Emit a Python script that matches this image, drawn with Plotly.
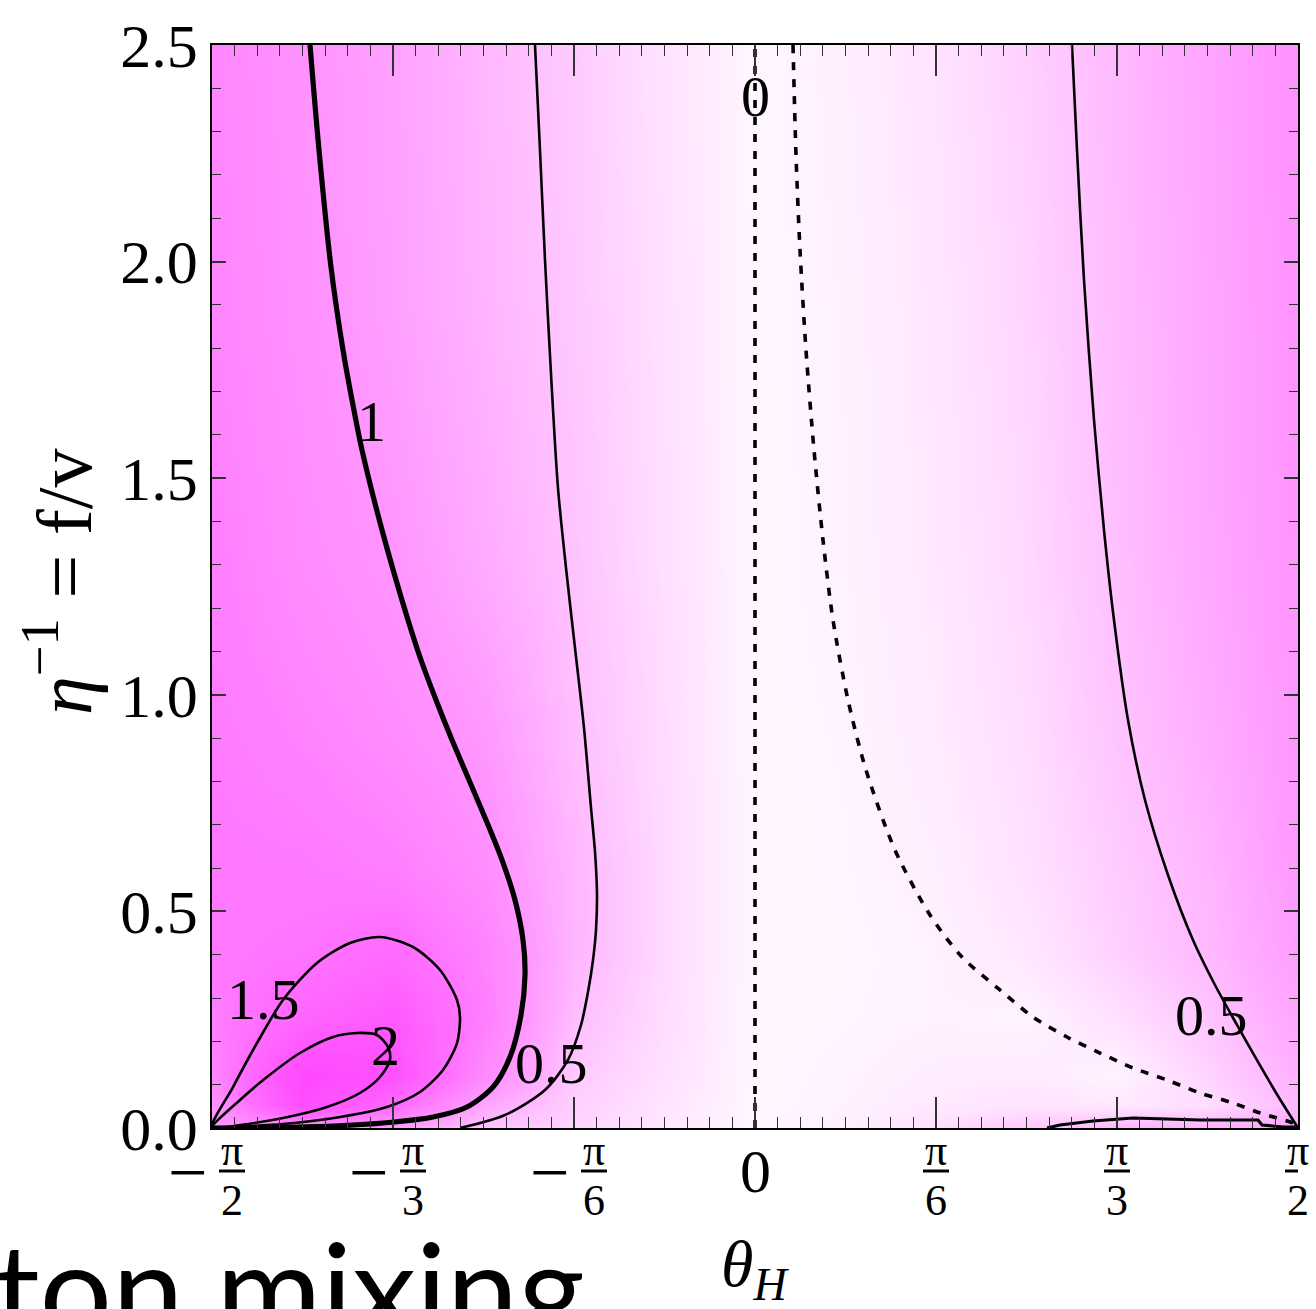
import plotly.graph_objects as go

# ---- background field |value| on a coarse (theta_H, 1/eta) grid ----
theta_grid = [-1.5708, -1.3090, -1.0472, -0.7854, -0.5236, -0.2618, 0.0,
              0.2618, 0.5236, 0.7854, 1.0472, 1.3090, 1.5708]
eta_inv_grid = [0.0, 0.05, 0.12, 0.25, 0.4, 0.6, 0.9, 1.3, 1.9, 2.5]
field = [
    [1.00, 0.97, 0.90, 0.48, 0.35, 0.15, 0.00, 0.08, 0.25, 0.45, 0.65, 0.70, 0.80],
    [1.00, 2.10, 1.60, 0.80, 0.38, 0.18, 0.00, 0.05, 0.14, 0.20, 0.15, 0.25, 0.60],
    [1.20, 2.20, 2.05, 1.15, 0.45, 0.22, 0.00, 0.04, 0.10, 0.12, 0.03, 0.35, 0.70],
    [1.30, 1.70, 1.90, 1.30, 0.56, 0.26, 0.00, 0.02, 0.05, 0.03, 0.22, 0.48, 0.80],
    [1.40, 1.45, 1.60, 1.25, 0.64, 0.28, 0.00, 0.01, 0.05, 0.15, 0.38, 0.60, 0.90],
    [1.40, 1.38, 1.30, 1.10, 0.63, 0.28, 0.00, 0.02, 0.08, 0.22, 0.42, 0.64, 0.95],
    [1.35, 1.25, 1.12, 0.96, 0.55, 0.27, 0.00, 0.03, 0.12, 0.26, 0.49, 0.72, 0.98],
    [1.30, 1.12, 0.99, 0.75, 0.50, 0.24, 0.00, 0.05, 0.15, 0.30, 0.54, 0.78, 1.00],
    [1.22, 1.05, 0.87, 0.65, 0.45, 0.22, 0.00, 0.06, 0.17, 0.34, 0.57, 0.80, 1.02],
    [1.20, 1.02, 0.85, 0.62, 0.43, 0.20, 0.00, 0.08, 0.20, 0.38, 0.60, 0.82, 1.04],
]

# ---- contour lines (theta_H in rad, eta^-1) ----
c1_theta = [-1.2873, -1.2613, -1.2266, -1.1918, -1.1658, -1.1369, -1.0790, -1.0038,
            -0.9662, -0.9228, -0.8765, -0.8273, -0.7782, -0.7319, -0.6943, -0.6711,
            -0.6653, -0.6769, -0.7087, -0.7579, -0.8331, -0.9315, -1.0761, -1.2208,
            -1.4117, -1.5708]
c1_eta = [2.500, 2.2576, 1.9875, 1.7959, 1.6805, 1.5651, 1.3804, 1.1727,
          1.0803, 0.9880, 0.8957, 0.8033, 0.7110, 0.6187, 0.5263, 0.4340,
          0.3532, 0.2609, 0.1639, 0.0946, 0.0485, 0.0254, 0.0115, 0.0046,
          0.0010, 0.0]

c15_theta = [-1.5708, -1.5100, -1.4406, -1.3654, -1.2670, -1.1716, -1.0848, -0.9893,
             -0.9112, -0.8621, -0.8534, -0.8621, -0.9026, -0.9691, -1.0646, -1.2005,
             -1.3654, -1.5100, -1.5708]
c15_eta = [0.0, 0.0946, 0.1962, 0.2955, 0.3809, 0.4271, 0.4409, 0.4178,
           0.3647, 0.2955, 0.2562, 0.1962, 0.1339, 0.0831, 0.0485, 0.0254,
           0.0092, 0.0023, 0.0]

c2_theta = [-1.5708, -1.4898, -1.4117, -1.3162, -1.2208, -1.1513, -1.0935, -1.0617,
            -1.0559, -1.0848, -1.1427, -1.2381, -1.3654, -1.4898, -1.5708]
c2_eta = [0.0, 0.0646, 0.1177, 0.1731, 0.2101, 0.2193, 0.2147, 0.1870,
          0.1570, 0.1177, 0.0808, 0.0485, 0.0231, 0.0069, 0.0]

c05l_theta = [-0.6364, -0.6220, -0.6075, -0.5901, -0.5699, -0.5467, -0.5207, -0.4947,
              -0.4744, -0.4628, -0.4571, -0.4600, -0.4686, -0.4831, -0.5033, -0.5410,
              -0.6075, -0.7232, -0.8534]
c05l_eta = [2.500, 2.2576, 2.0037, 1.7405, 1.4773, 1.2927, 1.1080, 0.9234,
            0.7387, 0.6371, 0.5379, 0.4571, 0.3878, 0.3139, 0.2378, 0.1570,
            0.0877, 0.0300, 0.0]

c05r_theta = [0.9170, 0.9315, 0.9517, 0.9807, 1.0096, 1.0385, 1.0790, 1.1282,
              1.1947, 1.2670, 1.3307, 1.3944, 1.4551, 1.5129, 1.5708]
c05r_eta = [2.500, 2.2576, 1.9575, 1.6343, 1.3804, 1.1727, 0.9418, 0.7572,
            0.5841, 0.4340, 0.3301, 0.2378, 0.1524, 0.0739, 0.0]

c0_theta = [0.1099, 0.1186, 0.1302, 0.1475, 0.1707, 0.1967, 0.2256, 0.2690,
            0.3211, 0.4050, 0.5062, 0.5988, 0.7087, 0.8042, 0.9026, 0.9980,
            1.0935, 1.1918, 1.2873, 1.3828, 1.4609, 1.5100, 1.5563, 1.5708]
c0_eta = [2.500, 2.2461, 2.0268, 1.7959, 1.5651, 1.3573, 1.1727, 0.9880,
          0.8264, 0.6417, 0.4917, 0.3947, 0.3186, 0.2562, 0.2101, 0.1731,
          0.1385, 0.1108, 0.0808, 0.0577, 0.0346, 0.0231, 0.0115, 0.0023]

c0v_theta = [0.0, 0.0]
c0v_eta = [0.0, 2.5]

cb_theta = [0.8447, 0.8823, 0.9778, 1.0935, 1.1918, 1.2873, 1.3828, 1.4551,
            1.4667, 1.5274, 1.5708]
cb_eta = [0.0, 0.0069, 0.0162, 0.0231, 0.0208, 0.0185, 0.0185, 0.0185,
          0.0069, 0.0023, 0.0023]

# contour labels: text, theta, eta^-1
label_text = ["0", "1", "1.5", "2", "0.5", "0.5"]
label_theta = [0.0, -1.108, -1.4204, -1.0703, -0.5901, 1.3220]
label_eta = [2.380, 1.630, 0.2955, 0.1916, 0.1500, 0.2608]

# x tick labels: position, sign, denominator
xtick_vals = [-1.5708, -1.0472, -0.5236, 0.0, 0.5236, 1.0472, 1.5708]
xtick_sign = ["−", "−", "−", "", "", "", ""]
xtick_den = ["2", "3", "6", "", "6", "3", "2"]

SERIF = "Liberation Serif"
W, H = 1316, 1309
L, R, T, B = 212, 18, 45, 181
PW, PH = W - L - R, H - T - B


def py(pix):
    """paper y for a pixel row of the figure"""
    return (H - B - pix) / PH


def px(pix):
    """paper x for a pixel column of the figure"""
    return (pix - L) / PW


fig = go.Figure()

fig.add_trace(go.Heatmap(
    x=theta_grid, y=eta_inv_grid, z=field, zsmooth="best",
    zmin=0, zmax=2.4, showscale=False, hoverinfo="skip",
    colorscale=[[0.0, "rgb(255,246,255)"], [0.104, "rgb(255,222,255)"],
                [0.208, "rgb(255,195,255)"], [0.3125, "rgb(255,170,255)"],
                [0.417, "rgb(255,148,255)"], [0.625, "rgb(255,112,255)"],
                [0.833, "rgb(255,82,255)"], [1.0, "rgb(255,62,255)"]],
))


def line(x, y, width, dash=None, shape="spline"):
    fig.add_trace(go.Scatter(
        x=x, y=y, mode="lines", hoverinfo="skip", showlegend=False,
        line=dict(color="black", width=width, dash=dash, shape=shape,
                  smoothing=0.8 if shape == "spline" else None),
    ))


line(c05l_theta, c05l_eta, 2.6)
line(c05r_theta, c05r_eta, 2.6)
line(c15_theta, c15_eta, 2.6)
line(c2_theta, c2_eta, 2.6)
line(c1_theta, c1_eta, 5.2)
line(cb_theta, cb_eta, 3.2, shape="linear")
line(c0_theta, c0_eta, 3.6, dash="8px,9px")
line(c0v_theta, c0v_eta, 3.6, dash="8px,9px", shape="linear")

annotations = []
for t, x, y in zip(label_text, label_theta, label_eta):
    annotations.append(dict(x=x, y=y, xref="x", yref="y", text=t, showarrow=False,
                            xanchor="center", yanchor="middle",
                            font=dict(family=SERIF, size=58, color="black")))

shapes = []
for v, s, d in zip(xtick_vals, xtick_sign, xtick_den):
    if d == "":
        annotations.append(dict(x=v, y=py(1171), xref="x", yref="paper", text="0",
                                showarrow=False, xanchor="center", yanchor="middle",
                                font=dict(family=SERIF, size=62, color="black")))
        continue
    off = 20 if s else 0
    if s:
        annotations.append(dict(x=v, y=py(1172), xref="x", yref="paper", text=s,
                                xshift=-25, showarrow=False, xanchor="center",
                                yanchor="middle",
                                font=dict(family=SERIF, size=70, color="black")))
    annotations.append(dict(x=v, y=py(1150), xref="x", yref="paper", text="π",
                            xshift=off, showarrow=False, xanchor="center",
                            yanchor="middle",
                            font=dict(family=SERIF, size=44, color="black")))
    annotations.append(dict(x=v, y=py(1200), xref="x", yref="paper", text=d,
                            xshift=off, showarrow=False, xanchor="center",
                            yanchor="middle",
                            font=dict(family=SERIF, size=44, color="black")))
    shapes.append(dict(type="line", xref="x", yref="paper", xsizemode="pixel",
                       xanchor=v, x0=off - 13, x1=off + 13, y0=py(1171), y1=py(1171),
                       line=dict(color="black", width=3)))

# axis titles
annotations.append(dict(x=px(58), y=py(582), xref="paper", yref="paper",
                        text="<i>η</i><sup>−1</sup> = f/v", textangle=-90, showarrow=False,
                        xanchor="center", yanchor="middle",
                        font=dict(family=SERIF, size=78, color="black")))
annotations.append(dict(x=0.0, y=py(1268), xref="x", yref="paper",
                        text="<i>θ</i><sub><i>H</i></sub>", showarrow=False,
                        xanchor="center", yanchor="middle",
                        font=dict(family=SERIF, size=66, color="black")))
# caption text running off the lower edge
annotations.append(dict(x=px(-8), y=py(1208), xref="paper", yref="paper",
                        text="ton mixing", showarrow=False, xanchor="left", yanchor="top",
                        font=dict(family="Lato", size=128, color="black")))

xmajor = [-1.5708, -1.0472, -0.5236, 0.0, 0.5236, 1.0472, 1.5708]
xminor = [k * 3.14159265 / 48 for k in range(-24, 25) if k % 8 != 0]

fig.update_layout(
    width=W, height=H, margin=dict(l=L, r=R, t=T, b=B),
    paper_bgcolor="white", plot_bgcolor="white", showlegend=False,
    annotations=annotations, shapes=shapes,
    xaxis=dict(range=[-1.5708, 1.5708], showgrid=False, zeroline=False,
               showline=True, linecolor="black", linewidth=1.5, mirror="allticks",
               tickmode="array", tickvals=xmajor, showticklabels=False,
               ticks="inside", ticklen=31, tickwidth=1.5, tickcolor="#333",
               minor=dict(tickmode="array", tickvals=xminor, ticks="inside",
                          ticklen=11, tickwidth=1.3, tickcolor="#333", showgrid=False)),
    yaxis=dict(range=[0, 2.5], showgrid=False, zeroline=False,
               showline=True, linecolor="black", linewidth=1.5, mirror="allticks",
               tickmode="array", tickvals=[0, 0.5, 1.0, 1.5, 2.0, 2.5],
               ticktext=["0.0", "0.5", "1.0", "1.5", "2.0", "2.5"],
               ticks="inside", ticklen=14, tickwidth=1.5, tickcolor="#333",
               tickfont=dict(family=SERIF, size=62, color="black"),
               minor=dict(dtick=0.1, tick0=0, ticks="inside", ticklen=9,
                          tickwidth=1.3, tickcolor="#333", showgrid=False)),
)

fig.write_html("out.html")
